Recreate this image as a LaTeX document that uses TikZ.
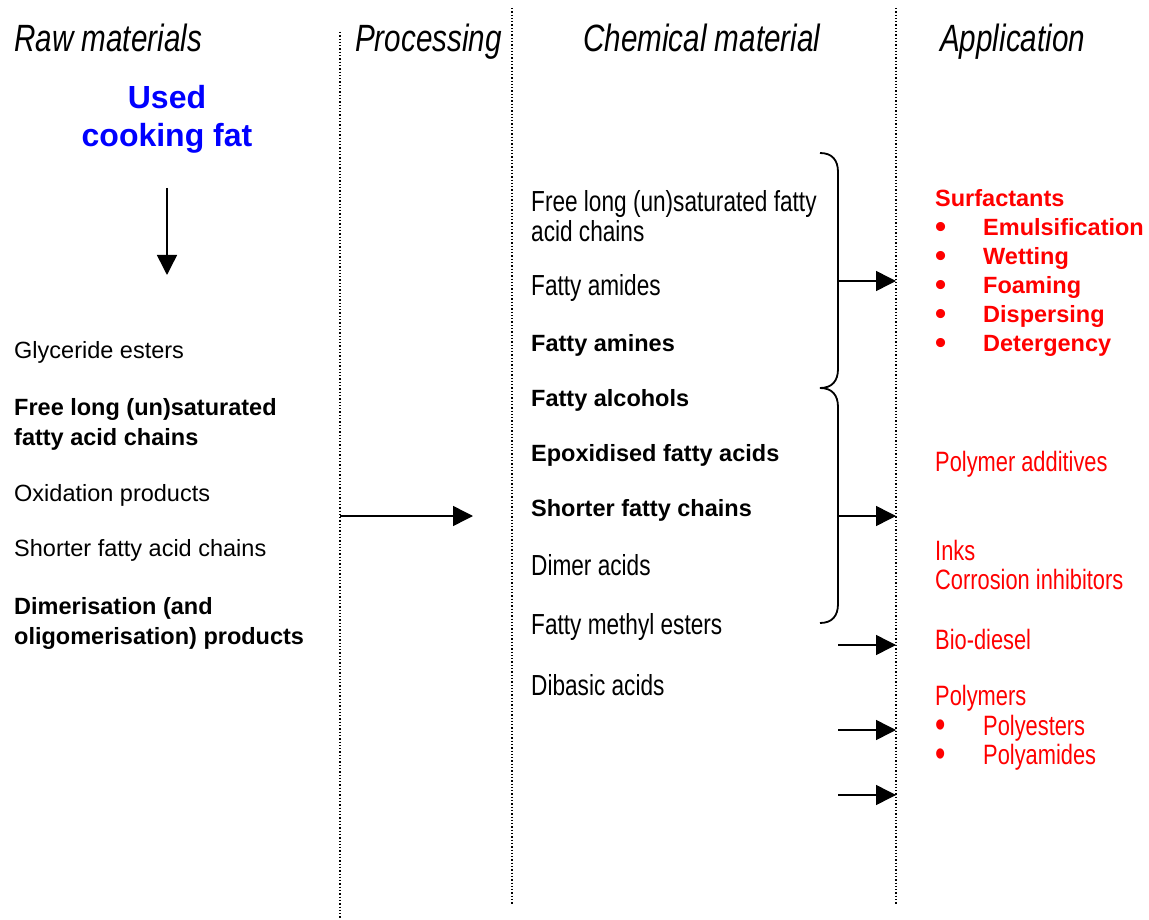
\documentclass[tikz,border=0pt]{standalone}
\usepackage{fontspec}
\setmainfont{Liberation Sans}
\newfontfamily\narrowfont[FakeStretch=0.78]{Liberation Sans}
\usetikzlibrary{arrows.meta}
\newcommand\listdot{\makebox[48pt][l]{\raisebox{-0.08em}{\scalebox{1.35}{\textbullet}}}}

\begin{document}
\begin{tikzpicture}[x=1pt,y=-1pt,
           heading/.style={anchor=base west, inner sep=0pt, font=\narrowfont\itshape\fontsize{38}{40}\selectfont},
           rawitem/.style={anchor=west, inner sep=0pt, align=left, font=\fontsize{23.5}{30}\selectfont},
           rawbold/.style={rawitem, font=\bfseries\fontsize{23.5}{30}\selectfont},
           chemitem/.style={anchor=west, inner sep=0pt, align=left, font=\narrowfont\fontsize{29}{30}\selectfont},
           appitem/.style={anchor=west, inner sep=0pt, align=left, text=red, font=\narrowfont\fontsize{28}{29.5}\selectfont},
           appbold/.style={anchor=west, inner sep=0pt, align=left, text=red, font=\bfseries\fontsize{23.5}{29}\selectfont},
           divider/.style={draw=black, line width=1.3pt, dotted},
           brace/.style={draw=black, line width=1.8pt},
           connections/.style={-{Triangle[length=20pt,width=20pt]}, draw=black, line width=1.5pt},
        ]
        \useasboundingbox (0,0) rectangle (1149,920);

        % column dividers
        \draw[divider] (340,32) -- (340,918);
        \draw[divider] (512,8) -- (512,905);
        \draw[divider] (896,8) -- (896,905);

        % headings
        \node[heading] (raw) at (14,52) {Raw materials};
        \node[heading] (proc) at (355,52) {Processing};
        \node[heading] (chem) at (583,52) {Chemical material};
        \node[heading] (appl) at (940,52) {Application};

        % raw materials
        \node[align=center, inner sep=0pt, text=blue, font=\bfseries\fontsize{32}{38}\selectfont] (fat) at (167,119) {Used\\cooking fat};
        \coordinate (fatout) at (167,188);
        \coordinate (fatin) at (167,275);
        \draw[connections] (fatout) -- (fatin);

        \node[rawitem] (glyc) at (14,352) {Glyceride esters};
        \node[rawbold] (freelong) at (14,424) {Free long (un)saturated\\fatty acid chains};
        \node[rawitem] (oxid) at (14,495) {Oxidation products};
        \node[rawitem] (shorter) at (14,550) {Shorter fatty acid chains};
        \node[rawbold] (dimer) at (14,623) {Dimerisation (and\\oligomerisation) products};

        % processing
        \coordinate (procin) at (340,516);
        \coordinate (procout) at (473,516);
        \draw[connections] (procin) -- (procout);

        % chemical material
        \node[chemitem] (fachains) at (531,216) {Free long (un)saturated fatty\\acid chains};
        \node[chemitem] (amides) at (531,288) {Fatty amides};
        \node[rawbold] (amines) at (531,345) {Fatty amines};
        \node[rawbold] (alcohols) at (531,400) {Fatty alcohols};
        \node[rawbold] (epox) at (531,455) {Epoxidised fatty acids};
        \node[rawbold] (shortchains) at (531,510) {Shorter fatty chains};
        \node[chemitem] (dimeracids) at (531,565) {Dimer acids};
        \node[chemitem] (methyl) at (531,627) {Fatty methyl esters};
        \node[chemitem] (dibasic) at (531,685) {Dibasic acids};

        % braces
        \draw[brace] (820,153) .. controls (832,153) and (838,160) .. (838,172) -- (838,369) .. controls (838,381) and (832,388) .. (820,388);
        \draw[brace] (820,388) .. controls (832,388) and (838,395) .. (838,407) -- (838,604) .. controls (838,616) and (832,623) .. (820,623);

        % application
        \node[appbold] (surf) at (935,273) {Surfactants\\
          \listdot Emulsification\\
          \listdot Wetting\\
          \listdot Foaming\\
          \listdot Dispersing\\
          \listdot Detergency};
        \node[appitem] (additives) at (935,464) {Polymer additives};
        \node[appitem] (inks) at (935,565) {Inks\\Corrosion inhibitors};
        \node[appitem] (biodiesel) at (935,639) {Bio-diesel};
        \node[appitem] (polymers) at (935,728) {Polymers\\
          \listdot Polyesters\\
          \listdot Polyamides};

        % connections to applications
        \coordinate (brace1) at (838,281);
        \coordinate (brace2) at (838,516);
        \coordinate (methylout) at (838,645);
        \coordinate (dibasicout) at (838,730);
        \coordinate (lastout) at (838,795);
        \foreach \src/\y in {brace1/281, brace2/516, methylout/645, dibasicout/730, lastout/795}
          \draw[connections] (\src) -- (896,\y);
     \end{tikzpicture}
\end{document}
